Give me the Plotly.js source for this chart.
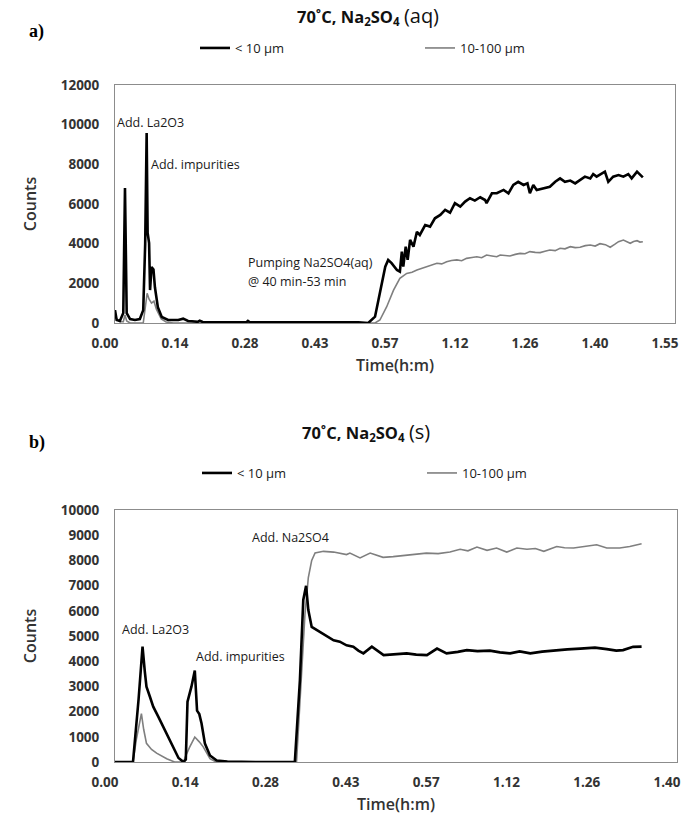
<!DOCTYPE html>
<html>
<head>
<meta charset="utf-8">
<script src="https://cdn.plot.ly/plotly-3.0.1.min.js"></script>
<style>html,body{margin:0;padding:0;background:#fff;}#chart{width:685px;height:824px;}</style>
</head>
<body>
<div id="chart"></div>
<script>
// ---------- DATA ----------
const seriesNames = ["< 10 \u00b5m", "10-100 \u00b5m"];

// Panel a: 70°C, Na2SO4 (aq) — time in minutes, counts
const aTickText = ["0.00","0.14","0.28","0.43","0.57","1.12","1.26","1.40","1.55"];
const aSpanMin = 115;
const aYTicks = [0,2000,4000,6000,8000,10000,12000];

const aSmallX = [0,0.34,1.0,1.7,2.05,2.4,3.1,4.1,5.1,5.8,6.2,6.5,6.7,7.0,7.2,7.5,7.9,8.2,8.8,9.6,10.9,13.0,14.0,14.4,15.0,15.8,17.0,17.4,18.0,22,27.0,27.3,27.7,32,40,46,50,52.0,53.4,54.1,54.8,55.5,56.1,56.8,57.9,58.5,58.9,59.2,59.7,60.1,60.6,61.3,62.0,62.6,63.7,64.7,65.7,66.8,67.8,68.8,69.8,70.9,71.9,72.9,73.9,75.0,76.0,76.3,77.4,78.4,79.8,80.8,81.8,82.8,83.9,84.7,85.2,85.9,86.6,88.0,89.3,90.4,91.4,92.4,93.5,94.5,95.5,96.5,97.6,98.2,98.9,99.9,100.6,101.3,102.3,103.4,104.4,105.4,106.1,107.2,107.8,108.4];
const aSmallY = [650,150,100,500,6800,500,200,150,200,650,4000,9580,4540,4030,1660,2820,2700,1800,800,300,150,150,220,180,100,90,60,120,50,40,40,110,40,30,30,40,30,0,320,1160,2000,2840,3180,3020,2670,2590,3600,2840,3850,3180,4190,3850,4600,4440,4940,4860,5280,5450,5700,5560,6040,5870,6120,6290,6170,6340,6200,6040,6540,6540,6710,6540,6960,7120,6960,7040,6540,6960,6710,6790,6870,7120,7290,7120,7180,7040,7210,7380,7290,7510,7380,7550,7630,7120,7380,7460,7380,7510,7290,7630,7460,7340];

const aLargeX = [0,1.0,1.7,2.05,2.4,3.1,5.8,6.2,6.6,7.0,7.5,8.0,8.5,9.5,10.5,12,20,30,40,50,53.4,54.4,55.8,57.2,58.5,59.9,61.0,62.0,63.0,64.0,65.0,66.1,67.1,68.1,69.1,70.2,71.2,72.2,73.3,74.3,75.3,76.3,77.4,78.4,79.1,80.1,81.1,82.2,83.2,84.2,85.2,86.3,87.3,88.3,89.3,90.4,91.4,92.4,93.5,94.5,95.5,96.6,97.6,98.6,99.6,100.7,101.7,102.6,103.4,104.4,105.1,105.8,106.5,107.2,107.8,108.4];
const aLargeY = [300,60,60,400,100,0,0,900,1500,1200,1000,1100,700,200,50,0,0,0,0,0,0,150,820,1660,2250,2500,2560,2670,2750,2840,2900,3010,2980,3090,3150,3180,3140,3260,3300,3340,3290,3430,3380,3340,3430,3400,3380,3460,3510,3490,3600,3560,3550,3620,3680,3650,3770,3740,3850,3800,3820,3900,3930,3880,4000,3950,3820,3960,4100,4180,4090,4020,4110,4150,4080,4100];

// Panel b: 70°C, Na2SO4 (s)
const bTickText = ["0.00","0.14","0.28","0.43","0.57","1.12","1.26","1.40"];
const bSpanMin = 100;
const bYTicks = [0,1000,2000,3000,4000,5000,6000,7000,8000,9000,10000];

const bSmallX = [0,3.2,4.2,4.9,5.3,5.6,6.2,6.8,7.7,8.6,9.5,10.4,11.3,12.2,12.6,12.9,13.6,14.2,14.6,15.0,15.4,16.0,16.9,18.1,20,25,32,32.9,33.5,34.0,34.4,35.0,36.5,38.9,40.0,41.2,42.4,43.3,44.2,45.7,47.8,49.5,51.9,53.6,55.5,57.3,59.0,61.0,62.6,64.5,66.7,68.5,70.3,72.0,73.9,76.0,78.6,80.5,82.8,85.4,87.5,89.2,90.4,92.2,93.7];
const bSmallY = [0,0,2500,4575,3600,2990,2600,2195,1800,1400,1000,610,160,0,100,2390,2990,3630,2040,1900,1530,730,260,60,20,0,0,3240,6430,6990,6030,5360,5160,4830,4775,4630,4575,4420,4310,4575,4240,4280,4310,4260,4240,4500,4310,4370,4440,4400,4420,4350,4310,4390,4310,4380,4440,4470,4500,4540,4480,4420,4440,4570,4580];

const bLargeX = [0,3.2,3.8,4.7,5.1,5.6,6.5,7.4,9.2,10.6,12.2,12.5,13.3,14.2,15.0,15.7,16.9,18,32.3,33.2,33.8,34.4,35.0,35.6,37.1,38.9,41.2,41.8,43.6,45.4,47.7,49.5,51.8,53.5,55.4,57.5,59.6,61.4,62.8,64.4,66.2,67.9,69.7,71.5,73.3,74.8,76.3,78.6,80.0,81.6,83.5,85.7,87.5,89.8,91.6,93.7];
const bLargeY = [0,0,900,1920,1300,740,500,350,130,0,0,200,600,990,800,600,130,0,0,3240,5870,7320,8000,8300,8360,8330,8230,8290,8100,8290,8120,8150,8200,8230,8290,8270,8330,8440,8380,8530,8400,8490,8330,8490,8440,8470,8360,8550,8500,8490,8550,8620,8490,8490,8550,8660];

// ---------- LAYOUT HELPERS ----------
const W = 685, H = 824;
const fx = p => p / W;
const fy = p => 1 - p / H;
const tickVals = (labels, span) => labels.map((_, i) => i * span / (labels.length - 1));

const blackLine = {color: '#000000', width: 2.6};
const grayLine  = {color: '#7f7f7f', width: 1.6};

// gray first so black draws on top; legendrank keeps black first in legend
const traces = [
  {x: aLargeX, y: aLargeY, type: 'scatter', mode: 'lines', name: seriesNames[1], line: grayLine, xaxis: 'x', yaxis: 'y', legend: 'legend', legendrank: 2},
  {x: aSmallX, y: aSmallY, type: 'scatter', mode: 'lines', name: seriesNames[0], line: blackLine, xaxis: 'x', yaxis: 'y', legend: 'legend', legendrank: 1},
  {x: bLargeX, y: bLargeY, type: 'scatter', mode: 'lines', name: seriesNames[1], line: grayLine, xaxis: 'x2', yaxis: 'y2', legend: 'legend2', legendrank: 2},
  {x: bSmallX, y: bSmallY, type: 'scatter', mode: 'lines', name: seriesNames[0], line: blackLine, xaxis: 'x2', yaxis: 'y2', legend: 'legend2', legendrank: 1}
];

const tickFont = {family: 'Open Sans', size: 13.5, color: '#333333', weight: 700};
const axTitleFont = {family: 'Open Sans', size: 16, color: '#333333', weight: 600};
const annFont = {family: 'Open Sans', size: 12.5, color: '#1a1a1a'};

function xAxis(domain, span, labels, anchor) {
  return {
    domain: domain, range: [0, span], anchor: anchor,
    tickmode: 'array', tickvals: tickVals(labels, span), ticktext: labels,
    showline: true, mirror: true, linecolor: '#8c8c8c', linewidth: 1,
    showgrid: false, zeroline: false, ticks: '',
    tickfont: tickFont, ticklabelstandoff: 8, ticklabelshift: -10,
    title: {text: 'Time(h:m)', font: axTitleFont, standoff: 8}
  };
}
function yAxis(domain, maxv, ticks, anchor) {
  return {
    domain: domain, range: [0, maxv], anchor: anchor,
    tickmode: 'array', tickvals: ticks, ticktext: ticks.map(String),
    showline: true, mirror: true, linecolor: '#8c8c8c', linewidth: 1,
    showgrid: false, zeroline: false, ticks: '',
    tickfont: tickFont, ticklabelstandoff: 12,
    title: {text: 'Counts', font: axTitleFont, standoff: 20}
  };
}

const legendBase = {
  orientation: 'h', xanchor: 'left', yanchor: 'middle',
  font: {family: 'Open Sans', size: 13, color: '#1a1a1a'},
  bgcolor: 'rgba(0,0,0,0)', borderwidth: 0,
  itemwidth: 30, entrywidth: 180, entrywidthmode: 'pixels',
  itemclick: false, itemdoubleclick: false
};

const titleA = "<b>70\u02daC, Na<sub>2</sub>SO<sub>4</sub></b> <span style='font-size:20px'>(aq)</span>";
const titleB = "<b>70\u02daC, Na<sub>2</sub>SO<sub>4</sub></b> <span style='font-size:20px'>(s)</span>";

const ann = (text, x, y, font, anchor) => ({text: text, xref: 'paper', yref: 'paper', x: fx(x), y: fy(y), xanchor: anchor || 'left', yanchor: 'middle', showarrow: false, font: font || annFont});

const layout = {
  width: W, height: H,
  margin: {l: 0, r: 0, t: 0, b: 0},
  paper_bgcolor: '#ffffff', plot_bgcolor: '#ffffff',
  font: {family: 'Open Sans', color: '#222'},
  showlegend: true,
  xaxis: xAxis([fx(115), fx(675)], aSpanMin, aTickText, 'y'),
  yaxis: yAxis([fy(323), fy(85)], 12000, aYTicks, 'x'),
  xaxis2: xAxis([fx(115), fx(677)], bSpanMin, bTickText, 'y2'),
  yaxis2: yAxis([fy(762), fy(510)], 10000, bYTicks, 'x2'),
  legend: Object.assign({}, legendBase, {x: fx(195), y: fy(48)}),
  legend2: Object.assign({}, legendBase, {x: fx(197), y: fy(473)}),
  annotations: [
    ann(titleA, 368, 16, {family: 'Open Sans', size: 16.5, color: '#111'}, 'center'),
    ann(titleB, 366, 431, {family: 'Open Sans', size: 16.5, color: '#111'}, 'center'),
    ann('a)', 27, 32, {family: 'Liberation Serif', size: 18, color: '#000', weight: 700}),
    ann('b)', 27, 442, {family: 'Liberation Serif', size: 18, color: '#000', weight: 700}),
    ann('Add. La2O3', 115, 122),
    ann('Add. impurities', 149, 165),
    ann('Pumping Na2SO4(aq)', 246, 262),
    ann('@ 40 min-53 min', 246, 282),
    ann('Add. Na2SO4', 250, 537),
    ann('Add. La2O3', 120, 629),
    ann('Add. impurities', 194, 656)
  ]
};

Plotly.newPlot('chart', traces, layout, {staticPlot: true, displayModeBar: false});
</script>
</body>
</html>
